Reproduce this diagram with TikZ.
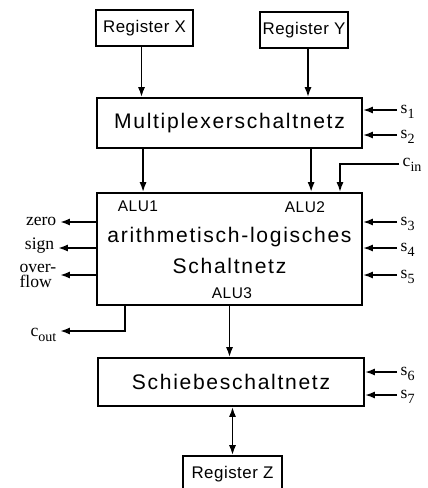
\documentclass[tikz,border=0pt]{standalone}
\usepackage{fontspec}
\setmainfont{Liberation Serif}
\setsansfont{Liberation Sans}
\newfontfamily\blockfont[LetterSpace=8]{Liberation Sans}
\newfontfamily\regfont[LetterSpace=3]{Liberation Sans}
\usetikzlibrary{arrows.meta}
\newcommand{\sig}[2]{#1\raisebox{-0.6ex}{\fontsize{10}{10}\selectfont #2}}
\begin{document}
\begin{tikzpicture}[x=0.025cm,y=-0.025cm,line width=1.3pt,
 >={Latex[length=7pt,width=5pt]},
 blk/.style={draw,inner sep=0pt,font=\blockfont\fontsize{15}{17}\selectfont},
 reg/.style={blk,font=\regfont\fontsize{12}{14}\selectfont,minimum height=0.9cm},
 txt/.style={blk,draw=none},
 tag/.style={inner sep=0pt,font=\regfont\fontsize{11}{12}\selectfont},
 lbl/.style={inner sep=2pt,font=\fontsize{12.5}{12}\selectfont}]
 \useasboundingbox (0,0) rectangle (428,488);
 \node[reg,minimum width=2.425cm] (rx) at (144.5,28) {Register X};
 \node[reg,minimum width=2.2cm] (ry) at (304,30) {Register Y};
 \node[blk,minimum width=6.625cm,minimum height=1.25cm] (mux) at (229.5,123) {Multiplexerschaltnetz};
 \node[blk,minimum width=6.625cm,minimum height=2.8cm] (alu) at (229.5,249) {};
 \node[tag] (a1) at (138,206) {ALU1};
 \node[tag] (a2) at (305,207) {ALU2};
 \node[txt] (t1) at (229.5,237) {arithmetisch-logisches};
 \node[txt] (t2) at (229.5,266) {Schaltnetz};
 \node[tag] (a3) at (232,293) {ALU3};
 \node[blk,minimum width=6.65cm,minimum height=1.2cm] (sh) at (231,382) {Schiebeschaltnetz};
 \node[reg,minimum width=2.475cm] (rz) at (232.5,474) {Register Z};
 \draw[->] ([xshift=-0.075cm]rx.south) -- ([xshift=-0.075cm]rx.south |- mux.north);
 \draw[->] ([xshift=0.1cm]ry.south) -- ([xshift=0.1cm]ry.south |- mux.north);
 \foreach \d in {-2.16cm,2.04cm}
  \draw[->] ([xshift=\d]mux.south) -- ([xshift=\d]alu.north);
 \draw[->] (alu.south) -- (alu.south |- sh.north);
 \draw[<->] (rz.north) -- (rz.north |- sh.south);
 \foreach \i/\y/\b in {1/110/mux,2/135/mux,3/222/alu,4/248/alu,5/275/alu,6/372/sh,7/395/sh} {
  \node[lbl,anchor=west] (s\i) at (397,\y+2) {\sig{s}{\i}};
  \draw[->] (s\i.west |- 0,\y) -- (\b.east |- 0,\y);
 }
 \node[lbl,anchor=west] (cin) at (399,165) {\sig{c}{in}};
 \coordinate (cinx) at (340,164);
 \draw[->] (cin.west |- cinx) -- (cinx) -- (cinx |- alu.north);
 \node[lbl,anchor=east] (zero) at (60,221) {zero};
 \node[lbl,anchor=east] (sign) at (58,246) {sign};
 \node[lbl,anchor=east,align=left,font=\fontsize{12.5}{11}\selectfont] (ovf) at (60,276) {over-\\flow};
 \foreach \n/\y in {zero/222,sign/248,ovf/275}
  \draw[->] (alu.west |- 0,\y) -- (\n.east |- 0,\y);
 \node[lbl,anchor=east] (cout) at (60,335) {\sig{c}{out}};
 \coordinate (coutx) at (125,331);
 \draw[->] (coutx |- alu.south) -- (coutx) -- (cout.east |- coutx);
\end{tikzpicture}
\end{document}
